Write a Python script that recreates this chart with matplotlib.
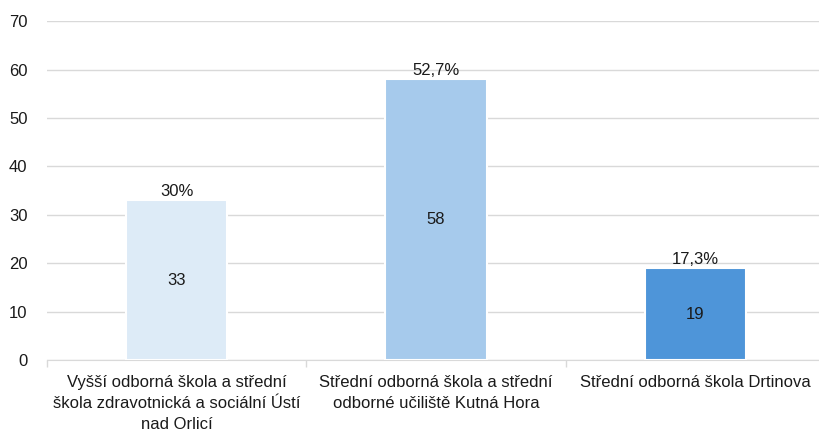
import numpy as np
import matplotlib.pyplot as plt

categories = ["Vyšší odborná škola a střední\nškola zdravotnická a sociální Ústí\nnad Orlicí",
              "Střední odborná škola a střední\nodborné učiliště Kutná Hora",
              "Střední odborná škola Drtinova"]
counts = [33, 58, 19]
shares = ["30%", "52,7%", "17,3%"]
colors = ["#DDEBF7", "#A6CAEC", "#4E95D9"]

plt.rcParams['font.family'] = ['Liberation Sans', 'DejaVu Sans']
fig = plt.figure(figsize=(8.2, 4.32), dpi=100)
ax = fig.add_axes([0.0573, 0.1667, 0.949, 0.7843])

x = np.arange(len(categories))
bars = ax.bar(x, counts, width=0.39, color=colors, edgecolor="white", linewidth=1.5, zorder=3)

for b, c, s in zip(bars, counts, shares):
    cx = b.get_x() + b.get_width() / 2
    ax.text(cx, c / 2, str(c), ha="center", va="center", fontsize=12, color="#1a1a1a", zorder=4)
    ax.text(cx, c + 0.2, s, ha="center", va="bottom", fontsize=12, color="#1a1a1a", zorder=4)

ax.set_xlim(-0.5, 2.5)
ax.set_ylim(0, 70)
ax.set_yticks(range(0, 71, 10))
ax.yaxis.grid(True, color="#D9D9D9", linewidth=1, zorder=0)
ax.set_xticks(x)
ax.set_xticklabels(categories, fontsize=12, color="#1a1a1a", linespacing=1.5)
ax.set_xticks([-0.5, 0.5, 1.5, 2.5], minor=True)
ax.tick_params(axis="x", which="major", length=0, pad=11)
ax.tick_params(axis="x", which="minor", length=5, color="#D9D9D9", width=1)
ax.tick_params(axis="y", length=0, labelsize=12, labelcolor="#1a1a1a", pad=14)

for side in ["top", "right", "left"]:
    ax.spines[side].set_visible(False)
ax.spines["bottom"].set_color("#D9D9D9")
ax.spines["bottom"].set_zorder(2)

fig.savefig("out.png", dpi=100)
